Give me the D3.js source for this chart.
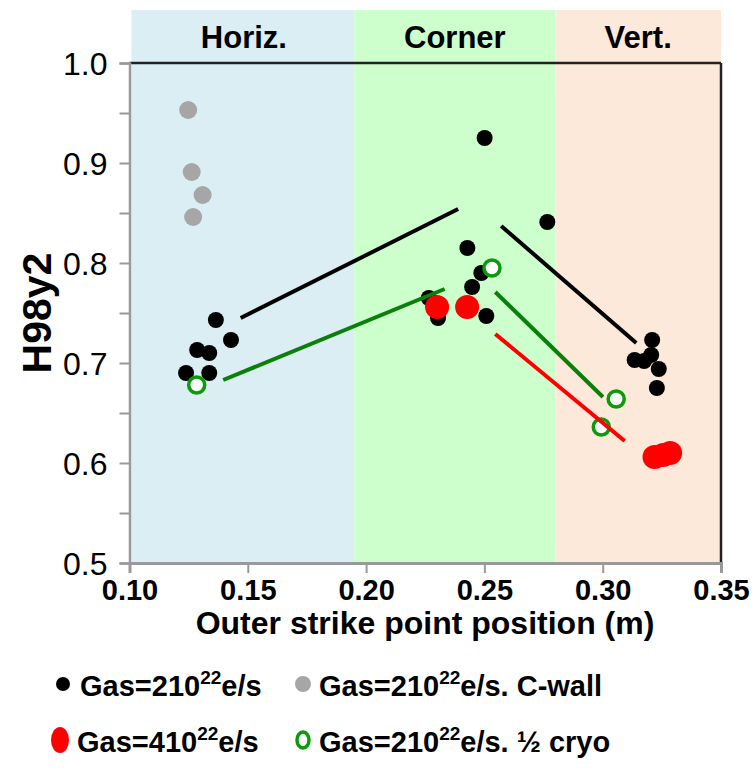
<!DOCTYPE html>
<html>
<head>
<meta charset="utf-8">
<script src="https://cdn.jsdelivr.net/npm/d3@7"></script>
<style>
  body { margin: 0; background: #fff; }
  svg { font-family: "Liberation Sans", Arial, sans-serif; }
</style>
</head>
<body>
<svg id="chart"></svg>
<script>
// regions along the outer strike point axis
const regions = [
    { name: 'Horiz.', from: 0.10, to: 0.195, fill: '#daeef3' },
    { name: 'Corner', from: 0.195, to: 0.28, fill: '#ccffcc' },
    { name: 'Vert.', from: 0.28, to: 0.35, fill: '#fde9d9' }
]

// [strike point (m), H98y2]
const gas2 = [
    [0.1365, 0.743], [0.1429, 0.723], [0.1286, 0.713], [0.1337, 0.710],
    [0.1239, 0.690], [0.1337, 0.690],
    [0.2501, 0.925], [0.2766, 0.841], [0.2428, 0.815], [0.2487, 0.790],
    [0.2448, 0.776], [0.2265, 0.765], [0.2304, 0.745], [0.2508, 0.747],
    [0.3209, 0.723], [0.3135, 0.703], [0.3175, 0.702], [0.3205, 0.708],
    [0.3237, 0.694], [0.3229, 0.675]
]
const gas2Cwall = [[0.1248, 0.953], [0.1263, 0.891], [0.1309, 0.868], [0.1269, 0.846]]
const gas4 = [[0.2300, 0.756], [0.2427, 0.756], [0.3219, 0.606], [0.3255, 0.608], [0.3285, 0.610]]
const gas2Cryo = [[0.1284, 0.678], [0.2532, 0.795], [0.3057, 0.664], [0.2994, 0.636]]

// trend segments
const trends = [
    { color: '#000000', pts: [[0.147, 0.745], [0.2389, 0.854]] },
    { color: '#000000', pts: [[0.2571, 0.837], [0.3142, 0.720]] },
    { color: '#0a800a', pts: [[0.1396, 0.683], [0.2332, 0.774]] },
    { color: '#0a800a', pts: [[0.2546, 0.771], [0.3001, 0.666]] },
    { color: '#ff0000', pts: [[0.2546, 0.729], [0.3093, 0.622]] }
]

const xTicks = [0.10, 0.15, 0.20, 0.25, 0.30, 0.35]
const yTicks = [0.5, 0.6, 0.7, 0.8, 0.9, 1.0]
const yMinor = [0.55, 0.65, 0.75, 0.85, 0.95]

const legendItems = [
    { kind: 'black', pre: 'Gas=210', post: 'e/s' },
    { kind: 'gray', pre: 'Gas=210', post: 'e/s. C-wall' },
    { kind: 'red', pre: 'Gas=410', post: 'e/s' },
    { kind: 'cryo', pre: 'Gas=210', post: 'e/s. \u00bd cryo' }
]

const width = 754
const height = 778

const svg = d3.select('#chart')
    .attr('width', width)
    .attr('height', height)

const x = d3.scaleLinear().domain([0.10, 0.35]).range([129.5, 721])
const y = d3.scaleLinear().domain([0.5, 1.0]).range([563, 63])

// background bands, reaching above the frame
svg.selectAll('rect.band')
    .data(regions)
    .enter()
    .append('rect')
    .attr('x', d => x(d.from) + (d.from === 0.10 ? 2 : 0))
    .attr('width', d => x(d.to) - x(d.from) - (d.from === 0.10 ? 2 : 0))
    .attr('y', y(1.053))
    .attr('height', y(0.5) - y(1.053))
    .attr('fill', d => d.fill)

svg.selectAll('text.band')
    .data(regions)
    .enter()
    .append('text')
    .attr('x', d => (x(d.from) + x(d.to)) / 2 + (d.name === 'Horiz.' ? 2 : 0))
    .attr('y', 48)
    .attr('text-anchor', 'middle')
    .style('font-size', '31px')
    .style('font-weight', 'bold')
    .text(d => d.name)

// frame: black top/right, grey axes left/bottom
svg.append('line')
    .attr('x1', x(0.10)).attr('x2', x(0.35))
    .attr('y1', y(1.0)).attr('y2', y(1.0))
    .attr('stroke', '#222').attr('stroke-width', 2.5)
svg.append('line')
    .attr('x1', x(0.35)).attr('x2', x(0.35))
    .attr('y1', y(1.0)).attr('y2', y(0.5))
    .attr('stroke', '#222').attr('stroke-width', 2.5)

const yAxis = d3.axisLeft(y)
    .tickValues(yTicks.concat(yMinor))
    .tickSize(10)
    .tickPadding(12)
    .tickFormat(d => yTicks.includes(d) ? d3.format('.1f')(d) : '')

const gy = svg.append('g')
    .attr('transform', `translate(${x(0.10)},0)`)
    .call(yAxis)
gy.select('.domain').attr('stroke', '#999').attr('stroke-width', 2.5)
gy.selectAll('.tick line').attr('stroke', '#999').attr('stroke-width', 2)
gy.selectAll('.tick text')
    .style('font-size', '32px')
    .style('font-family', '"Liberation Sans", Arial, sans-serif')
    .attr('fill', '#000')
    .attr('dy', '0.36em')

const xAxis = d3.axisBottom(x)
    .tickValues(xTicks)
    .tickSize(10)
    .tickPadding(6)
    .tickFormat(d3.format('.2f'))

const gx = svg.append('g')
    .attr('transform', `translate(0,${y(0.5)})`)
    .call(xAxis)
gx.select('.domain').attr('stroke', '#999').attr('stroke-width', 3)
gx.selectAll('.tick line').attr('stroke', '#999').attr('stroke-width', 2)
gx.selectAll('.tick text')
    .style('font-size', '29px')
    .style('font-weight', 'bold')
    .style('font-family', '"Liberation Sans", Arial, sans-serif')
    .attr('fill', '#000')

// axis titles
svg.append('text')
    .attr('transform', `translate(51,${y(0.75)}) rotate(-90)`)
    .attr('text-anchor', 'middle')
    .style('font-size', '41px')
    .style('font-weight', 'bold')
    .text('H98y2')

svg.append('text')
    .attr('x', 425)
    .attr('y', 634)
    .attr('text-anchor', 'middle')
    .style('font-size', '32px')
    .style('font-weight', 'bold')
    .text('Outer strike point position (m)')

// points
svg.selectAll('circle.gas2')
    .data(gas2)
    .enter()
    .append('circle')
    .attr('cx', d => x(d[0])).attr('cy', d => y(d[1]))
    .attr('r', 8)
    .attr('fill', '#000')

svg.selectAll('circle.cwall')
    .data(gas2Cwall)
    .enter()
    .append('circle')
    .attr('cx', d => x(d[0])).attr('cy', d => y(d[1]))
    .attr('r', 9)
    .attr('fill', '#a6a6a6')

svg.selectAll('circle.gas4')
    .data(gas4)
    .enter()
    .append('circle')
    .attr('cx', d => x(d[0])).attr('cy', d => y(d[1]))
    .attr('r', 12)
    .attr('fill', '#ff0000')

svg.selectAll('circle.cryo')
    .data(gas2Cryo)
    .enter()
    .append('circle')
    .attr('cx', d => x(d[0])).attr('cy', d => y(d[1]))
    .attr('r', 8)
    .attr('fill', '#fff')
    .attr('stroke', '#0a9a0a')
    .attr('stroke-width', 3.5)

// trend lines on top
const line = d3.line().x(d => x(d[0])).y(d => y(d[1]))
svg.selectAll('path.trend')
    .data(trends)
    .enter()
    .append('path')
    .attr('d', d => line(d.pts))
    .attr('fill', 'none')
    .attr('stroke', d => d.color)
    .attr('stroke-width', 4)

// legend
const legendPos = [[63, 684], [303, 684], [60, 740], [303, 740]]
const lg = svg.selectAll('g.legend')
    .data(legendItems)
    .enter()
    .append('g')
    .attr('transform', (d, i) => `translate(${legendPos[i][0]},${legendPos[i][1]})`)

lg.each(function (d) {
    const g = d3.select(this)
    if (d.kind === 'black') g.append('circle').attr('r', 7).attr('fill', '#000')
    if (d.kind === 'gray') g.append('circle').attr('r', 8).attr('fill', '#a6a6a6')
    if (d.kind === 'red') g.append('ellipse').attr('rx', 9).attr('ry', 13).attr('fill', '#ff0000')
    if (d.kind === 'cryo') g.append('ellipse').attr('rx', 6).attr('ry', 8)
        .attr('fill', '#fff').attr('stroke', '#0a9a0a').attr('stroke-width', 3.5)
})

const lt = lg.append('text')
    .attr('x', (d, i) => i % 2 === 0 ? 17 : 16)
    .attr('y', (d, i) => i < 2 ? 12 : 12)
    .style('font-size', '29px')
    .style('font-weight', 'bold')
lt.append('tspan').text(d => d.pre)
lt.append('tspan').attr('dy', -12).style('font-size', '19px').text('22')
lt.append('tspan').attr('dy', 12).text(d => d.post)
</script>
</body>
</html>
